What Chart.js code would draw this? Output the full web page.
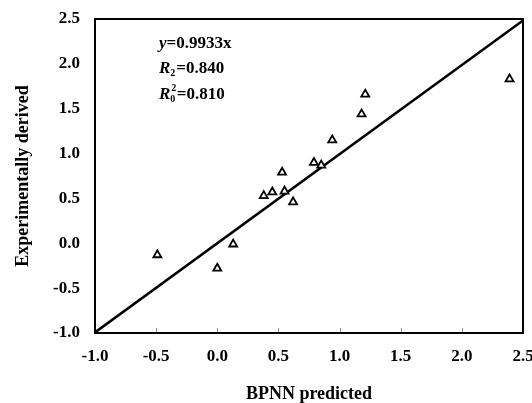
<!DOCTYPE html>
<html>
<head>
<meta charset="utf-8">
<script src="https://cdn.jsdelivr.net/npm/chart.js@4.4.1/dist/chart.umd.min.js"></script>
<style>
  html, body { margin: 0; padding: 0; background: #ffffff; }
  #wrap { width: 532px; height: 403px; }
</style>
</head>
<body>
<div id="wrap"><canvas id="c" width="532" height="403"></canvas></div>
<script>
// ---- data ----
const bpnnPredicted = [-0.49, 0.00, 0.13, 0.38, 0.45, 0.53, 0.55, 0.62, 0.79, 0.85, 0.94, 1.18, 1.21, 2.39];
const experimental  = [-0.13, -0.28, -0.01, 0.53, 0.57, 0.79, 0.58, 0.46, 0.90, 0.87, 1.15, 1.44, 1.66, 1.83];
const fitSlope = 0.9933;
const fitRangeX = [-1.0, 2.5];
const axisMin = -1.0, axisMax = 2.5, axisStep = 0.5;
const xTitle = 'BPNN predicted';
const yTitle = 'Experimentally derived';

const scatterPts = bpnnPredicted.map((x, i) => ({ x: x, y: experimental[i] }));
const fitPts = fitRangeX.map(x => ({ x: x, y: fitSlope * x }));

const SERIF = '"Liberation Serif", "Times New Roman", serif';

const framePlugin = {
  id: 'frame',
  afterDraw(chart) {
    const ctx = chart.ctx, a = chart.chartArea;
    const xs = chart.scales.x;
    ctx.save();
    // inward tick marks on the x axis
    ctx.strokeStyle = '#8a8a8a';
    ctx.lineWidth = 1;
    xs.ticks.forEach(t => {
      if (t.value <= axisMin || t.value >= axisMax) return;
      const px = Math.round(xs.getPixelForValue(t.value)) + 0.5;
      ctx.beginPath();
      ctx.moveTo(px, a.bottom);
      ctx.lineTo(px, a.bottom - 5);
      ctx.stroke();
    });
    // frame
    ctx.strokeStyle = '#000000';
    ctx.lineWidth = 2;
    ctx.strokeRect(a.left, a.top, a.right - a.left, a.bottom - a.top);
    ctx.restore();

    // equation text
    ctx.save();
    ctx.fillStyle = '#000000';
    ctx.textBaseline = 'alphabetic';
    ctx.textAlign = 'left';
    const x0 = a.left + 64;
    const fI = 'bold italic 17px ' + SERIF;
    const fB = 'bold 17px ' + SERIF;
    const fS = 'bold 10px ' + SERIF;
    let x;
    // line 1
    let y = a.top + 29;
    ctx.font = fI; ctx.fillText('y', x0, y); x = x0 + ctx.measureText('y').width;
    ctx.font = fB; ctx.fillText('=0.9933x', x, y);
    // line 2
    y = a.top + 54;
    ctx.font = fI; ctx.fillText('R', x0, y); x = x0 + ctx.measureText('R').width;
    ctx.font = fS; ctx.fillText('2', x, y + 3); x += ctx.measureText('2').width + 1;
    ctx.font = fB; ctx.fillText('=0.840', x, y);
    // line 3
    y = a.top + 80;
    ctx.font = fI; ctx.fillText('R', x0, y); x = x0 + ctx.measureText('R').width;
    ctx.font = fS; ctx.fillText('0', x, y + 3); ctx.fillText('2', x + 1, y - 8);
    x += ctx.measureText('0').width + 1.5;
    ctx.font = fB; ctx.fillText('=0.810', x, y);
    ctx.restore();
  }
};

new Chart(document.getElementById('c'), {
  type: 'scatter',
  data: {
    datasets: [
      {
        label: 'data',
        data: scatterPts,
        pointStyle: 'triangle',
        pointRadius: 4.6,
        pointBorderWidth: 1.8,
        borderColor: '#000000',
        backgroundColor: '#ffffff',
        pointBackgroundColor: '#ffffff',
        pointBorderColor: '#000000'
      },
      {
        label: 'fit',
        data: fitPts,
        showLine: true,
        pointRadius: 0,
        borderColor: '#000000',
        borderWidth: 2.6,
        fill: false
      }
    ]
  },
  options: {
    responsive: false,
    animation: false,
    events: [],
    layout: { padding: { left: 0, right: 9, top: 19, bottom: 0 } },
    plugins: { legend: { display: false }, tooltip: { enabled: false } },
    scales: {
      x: {
        type: 'linear',
        min: axisMin, max: axisMax,
        grid: { display: false, drawTicks: false },
        border: { display: false },
        ticks: {
          stepSize: axisStep,
          padding: 13,
          color: '#000000',
          font: { family: SERIF, size: 17, weight: 'bold' },
          callback: v => Number(v).toFixed(1),
          maxRotation: 0, autoSkip: false
        },
        title: {
          display: true, text: xTitle, color: '#000000',
          font: { family: SERIF, size: 18, weight: 'bold', lineHeight: 1.0 },
          padding: { top: 0, bottom: 0 }
        },
        afterFit: s => { s.height = 70; s.paddingLeft = 0; s.paddingRight = 0; }
      },
      y: {
        type: 'linear',
        min: axisMin, max: axisMax,
        grid: { display: false, drawTicks: false },
        border: { display: false },
        ticks: {
          stepSize: axisStep,
          padding: 15,
          color: '#000000',
          font: { family: SERIF, size: 17, weight: 'bold' },
          callback: v => Number(v).toFixed(1),
          autoSkip: false
        },
        title: {
          display: true, text: yTitle, color: '#000000',
          font: { family: SERIF, size: 18, weight: 'bold', lineHeight: 1.0 },
          padding: { top: 14, bottom: 0 }
        },
        afterFit: s => { s.width = 95; s.paddingTop = 0; s.paddingBottom = 0; }
      }
    }
  },
  plugins: [framePlugin]
});
</script>
</body>
</html>
